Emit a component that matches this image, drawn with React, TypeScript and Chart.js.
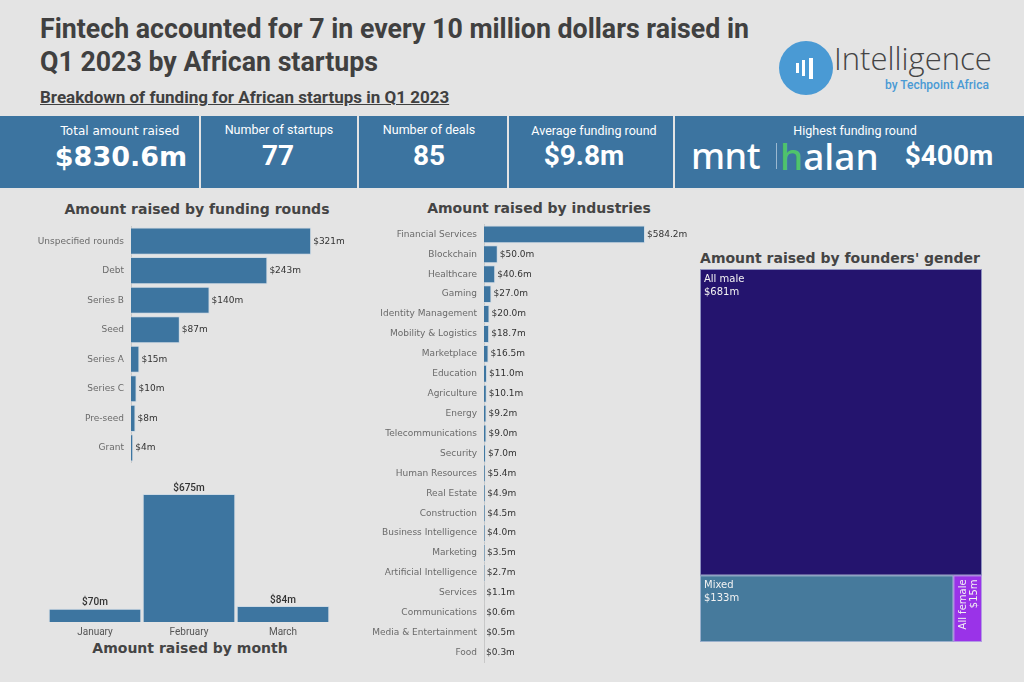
import React, { useEffect, useRef } from "react";
import { Chart, registerables } from "chart.js";
Chart.register(...registerables);

const roundLabels = ["Unspecified rounds", "Debt", "Series B", "Seed", "Series A", "Series C", "Pre-seed", "Grant"];
const roundValues = [321, 243, 140, 87, 15, 10, 8, 4];

const monthLabels = ["January", "February", "March"];
const monthValues = [70, 675, 84];

const industryLabels = [
  "Financial Services", "Blockchain", "Healthcare", "Gaming", "Identity Management",
  "Mobility & Logistics", "Marketplace", "Education", "Agriculture", "Energy",
  "Telecommunications", "Security", "Human Resources", "Real Estate", "Construction",
  "Business Intelligence", "Marketing", "Artificial Intelligence", "Services",
  "Communications", "Media & Entertainment", "Food",
];
const industryValues = [584.2, 50.0, 40.6, 27.0, 20.0, 18.7, 16.5, 11.0, 10.1, 9.2, 9.0, 7.0, 5.4, 4.9, 4.5, 4.0, 3.5, 2.7, 1.1, 0.6, 0.5, 0.3];

const genderLabels = ["All male", "Mixed", "All female"];
const genderValues = [681, 133, 15];

const kpiLabels = ["Total amount raised", "Number of startups", "Number of deals", "Average funding round", "Highest funding round"];
const kpiValues = ["$830.6m", "77", "85", "$9.8m", "$400m"];

const BAR = "#3d75a0";
const BAR_BORDER = "rgba(200,215,228,0.8)";
const VERDANA = "'DejaVu Sans', Verdana, sans-serif";

function valueLabelPlugin(fmt: (v: number) => string, font: string, color: string, horizontal: boolean) {
  return {
    id: "valueLabels",
    afterDatasetsDraw(chart: any) {
      const ctx = chart.ctx;
      const meta = chart.getDatasetMeta(0);
      const data = chart.data.datasets[0].data as number[];
      ctx.save();
      ctx.font = font;
      ctx.fillStyle = color;
      meta.data.forEach((el: any, i: number) => {
        const txt = fmt(data[i]);
        if (horizontal) {
          ctx.textAlign = "left";
          ctx.textBaseline = "middle";
          ctx.fillText(txt, el.x + 2, el.y);
        } else {
          ctx.textAlign = "center";
          ctx.textBaseline = "bottom";
          ctx.fillText(txt, el.x, el.y - 1);
        }
      });
      ctx.restore();
    },
  };
}

function useChart(ref: React.RefObject<HTMLCanvasElement>, make: (c: HTMLCanvasElement) => Chart) {
  useEffect(() => {
    if (!ref.current) return;
    const ch = make(ref.current);
    return () => ch.destroy();
  }, []);
}

function HBar({ labels, values, axisW, max, left, top, width, height, fontSize, fmt, pct }: any) {
  const ref = useRef<HTMLCanvasElement>(null);
  useChart(ref, (c) =>
    new Chart(c, {
      type: "bar",
      data: {
        labels,
        datasets: [{ data: values, backgroundColor: BAR, borderColor: BAR_BORDER, borderWidth: 1, barPercentage: pct, categoryPercentage: 1 }],
      },
      options: {
        indexAxis: "y",
        animation: false,
        responsive: false,
        layout: { padding: 0 },
        plugins: { legend: { display: false }, tooltip: { enabled: false } },
        scales: {
          x: { display: false, min: 0, max },
          y: {
            afterFit: (s: any) => { s.width = axisW; },
            grid: { display: false, drawTicks: false },
            border: { display: true, color: "#c8c8c8", width: 1 },
            ticks: { padding: 7, color: "#6a6a6a", font: { family: VERDANA, size: fontSize }, autoSkip: false },
          },
        },
      },
      plugins: [valueLabelPlugin(fmt, `${fontSize}px ${VERDANA}`, "#333", true)],
    } as any)
  );
  return <canvas ref={ref} width={width} height={height} style={{ position: "absolute", left, top, width, height }} />;
}

function MonthChart() {
  const ref = useRef<HTMLCanvasElement>(null);
  useChart(ref, (c) =>
    new Chart(c, {
      type: "bar",
      data: {
        labels: monthLabels,
        datasets: [{ data: monthValues, backgroundColor: BAR, borderColor: BAR_BORDER, borderWidth: 1, barPercentage: 0.985, categoryPercentage: 1 }],
      },
      options: {
        animation: false,
        responsive: false,
        layout: { padding: 0 },
        plugins: { legend: { display: false }, tooltip: { enabled: false } },
        scales: {
          y: { display: false, min: 0, max: 749 },
          x: {
            afterFit: (s: any) => { s.height = 20; },
            grid: { display: false, drawTicks: false },
            border: { display: false },
            ticks: { padding: 4, color: "#555", font: { family: "Roboto, sans-serif", size: 10 } },
          },
        },
      },
      plugins: [valueLabelPlugin((v) => `$${v}m`, `500 10px Roboto, sans-serif`, "#333", false)],
    } as any)
  );
  return <canvas ref={ref} width={282} height={162} style={{ position: "absolute", left: 48, top: 480, width: 282, height: 162 }} />;
}

function GenderTreemap() {
  const ref = useRef<HTMLCanvasElement>(null);
  const total = genderValues.reduce((a, b) => a + b, 0);
  const colors = ["#24146e", "#467a9c", "#9a33e8"];
  useChart(ref, (c) =>
    new Chart(c, {
      type: "scatter",
      data: { datasets: [{ data: [] }] },
      options: {
        animation: false,
        responsive: false,
        layout: { padding: 0 },
        plugins: { legend: { display: false }, tooltip: { enabled: false } },
        scales: {
          x: { display: false, min: 0, max: 1 },
          y: { display: false, min: 0, max: total, reverse: true },
        },
      },
      plugins: [
        {
          id: "treemap",
          afterDatasetsDraw(chart: any) {
            const { ctx, scales } = chart;
            const xs = scales.x, ys = scales.y;
            const male = genderValues[0];
            const rest = total - male;
            const split = genderValues[1] / rest;
            const rects = [
              { x0: 0, x1: 1, y0: 0, y1: male },
              { x0: 0, x1: split, y0: male, y1: total },
              { x0: split, x1: 1, y0: male, y1: total },
            ];
            ctx.save();
            rects.forEach((r, i) => {
              const px0 = xs.getPixelForValue(r.x0);
              const px1 = xs.getPixelForValue(r.x1);
              const py0 = ys.getPixelForValue(r.y0);
              const py1 = ys.getPixelForValue(r.y1);
              ctx.fillStyle = colors[i];
              ctx.fillRect(px0, py0, px1 - px0, py1 - py0);
              ctx.strokeStyle = "rgba(190,200,225,0.7)";
              ctx.lineWidth = 1;
              ctx.strokeRect(px0 + 0.5, py0 + 0.5, px1 - px0 - 1, py1 - py0 - 1);
              ctx.fillStyle = "#f2f2f2";
              ctx.font = `10px ${VERDANA}`;
              if (i < 2) {
                ctx.textAlign = "left";
                ctx.textBaseline = "top";
                ctx.fillText(genderLabels[i], px0 + 4, py0 + 5);
                ctx.fillText(`$${genderValues[i]}m`, px0 + 4, py0 + 18);
              } else {
                ctx.save();
                ctx.translate(px0, py0);
                ctx.rotate(-Math.PI / 2);
                ctx.textAlign = "right";
                ctx.textBaseline = "top";
                ctx.font = `10px ${VERDANA}`;
                ctx.fillText(genderLabels[i], -4, 5);
                ctx.fillText(`$${genderValues[i]}m`, -4, 16);
                ctx.restore();
              }
            });
            ctx.restore();
          },
        },
      ],
    } as any)
  );
  return <canvas ref={ref} width={282} height={373} style={{ position: "absolute", left: 700, top: 269, width: 282, height: 373 }} />;
}

const abs = (s: React.CSSProperties): React.CSSProperties => ({ position: "absolute", ...s });

export default function App() {
  useEffect(() => {
    document.body.style.margin = "0";
  }, []);
  const chartTitle = (text: string, left: number, top: number, width: number, size = 14): React.ReactNode => (
    <div style={abs({ left, top, width, textAlign: "center", fontFamily: VERDANA, fontWeight: 700, fontSize: size, color: "#444", whiteSpace: "nowrap" })}>{text}</div>
  );
  const kpiLabel = (i: number, cx: number, top: number, size = 12.5, family = "Roboto, sans-serif") => (
    <div style={abs({ left: cx - 100, width: 200, top, textAlign: "center", fontSize: size, color: "#fff", fontFamily: family, whiteSpace: "nowrap" })}>{kpiLabels[i]}</div>
  );
  const bigVal = (text: string, cx: number, top: number, size = 28, family = "Roboto, sans-serif") => (
    <div style={abs({ left: cx - 100, width: 200, top, textAlign: "center", fontFamily: family, fontWeight: 700, fontSize: size, color: "#fff", whiteSpace: "nowrap" })}>{text}</div>
  );
  return (
    <div style={abs({ left: 0, top: 0, width: 1024, height: 682, background: "#e4e4e4", overflow: "hidden", fontFamily: "Roboto, sans-serif" })}>
      {/* Header */}
      <div style={abs({ left: 40, top: 13, fontSize: 27, fontWeight: 700, color: "#404040", lineHeight: "33px", transformOrigin: "left top", transform: "scaleX(0.99)", whiteSpace: "nowrap" })}>
        Fintech accounted for 7 in every 10 million dollars raised in<br />Q1 2023 by African startups
      </div>
      <div style={abs({ left: 40, top: 87, fontSize: 17, fontWeight: 700, color: "#404040", textDecoration: "underline", whiteSpace: "nowrap" })}>
        Breakdown of funding for African startups in Q1 2023
      </div>
      {/* Logo */}
      <div style={abs({ left: 779, top: 41, width: 54, height: 54, borderRadius: "50%", background: "#4a9ad4" })}>
        <div style={abs({ left: 17, top: 22, width: 3, height: 10, background: "#fff" })} />
        <div style={abs({ left: 23, top: 19, width: 3, height: 16, background: "#fff" })} />
        <div style={abs({ left: 30, top: 17, width: 4, height: 21, background: "#fff" })} />
      </div>
      <div style={abs({ left: 834, top: 37, fontSize: 31, fontWeight: 300, color: "#444", whiteSpace: "nowrap", fontFamily: "'Open Sans', sans-serif" })}>Intelligence</div>
      <div style={abs({ left: 885, top: 78, fontSize: 12, fontWeight: 500, color: "#4a9ad4", whiteSpace: "nowrap" })}>by Techpoint Africa</div>

      {/* KPI band */}
      {[[0, 199], [201, 357], [359, 507], [509, 673], [675, 1024]].map(([a, b], i) => (
        <div key={i} style={abs({ left: a, top: 116, width: b - a, height: 72, background: "#3c74a0" })} />
      ))}
      {kpiLabel(0, 120, 124, 12, VERDANA)}
      {kpiLabel(1, 279, 122)}
      {kpiLabel(2, 429, 122)}
      {kpiLabel(3, 594, 123)}
      {kpiLabel(4, 855, 123)}
      {bigVal(kpiValues[0], 121, 141, 27, VERDANA)}
      {bigVal(kpiValues[1], 278, 139)}
      {bigVal(kpiValues[2], 429, 139)}
      {bigVal(kpiValues[3], 584, 139)}
      {bigVal(kpiValues[4], 949, 139)}
      <div style={abs({ left: 691, top: 136, fontSize: 36, fontWeight: 500, color: "#fff", fontFamily: "'Noto Sans', sans-serif", letterSpacing: -0.5, whiteSpace: "nowrap", lineHeight: "40px" })}>mnt</div>
      <div style={abs({ left: 776, top: 143, width: 1, height: 26, background: "#9bb8d0" })} />
      <div style={abs({ left: 780, top: 136, fontSize: 37, fontWeight: 500, color: "#fff", fontFamily: "'Noto Sans', sans-serif", letterSpacing: 0, whiteSpace: "nowrap", lineHeight: "40px" })}>
        <span style={{ color: "#4fc36b" }}>h</span>alan
      </div>

      {/* Chart titles */}
      {chartTitle("Amount raised by funding rounds", 47, 201, 300)}
      {chartTitle("Amount raised by industries", 389, 200, 300)}
      {chartTitle("Amount raised by founders' gender", 690, 250, 300)}
      {chartTitle("Amount raised by month", 40, 640, 300)}

      <HBar labels={roundLabels} values={roundValues} axisW={131} max={408} left={0} top={214} width={360} height={261} fontSize={9} fmt={(v: number) => `$${v}m`} pct={0.92} />
      <MonthChart />
      <HBar labels={industryLabels} values={industryValues} axisW={124} max={747.5} left={360} top={212} width={330} height={463} fontSize={9} fmt={(v: number) => `$${v.toFixed(1)}m`} pct={0.9} />
      <GenderTreemap />
    </div>
  );
}
